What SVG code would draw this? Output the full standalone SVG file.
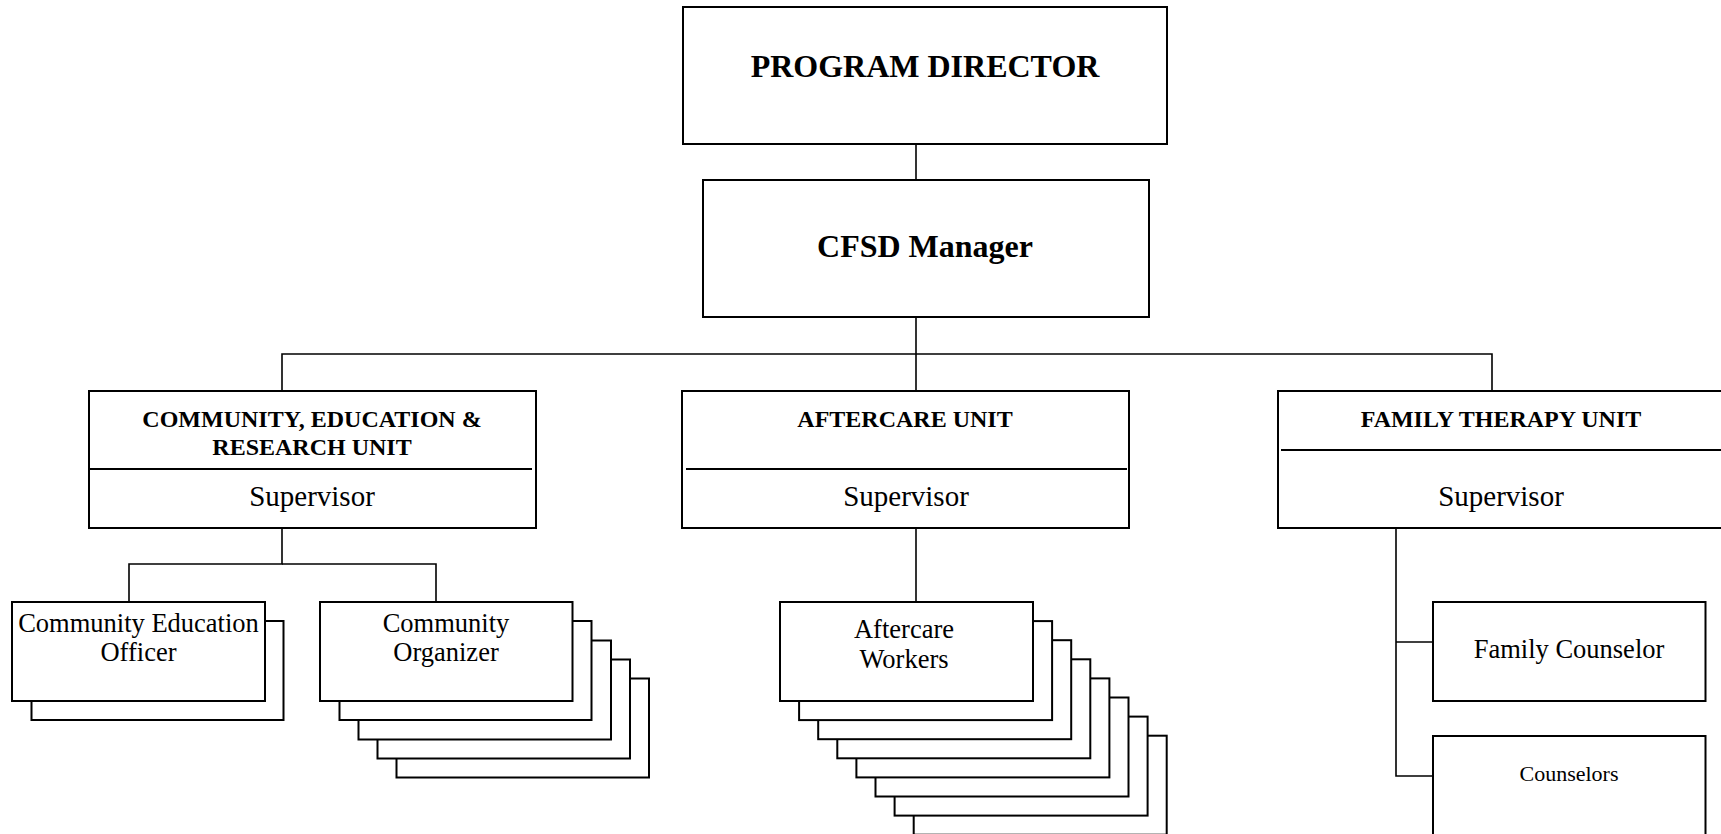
<svg xmlns="http://www.w3.org/2000/svg" width="1721" height="834" viewBox="0 0 1721 834">
<style>
  .box{fill:#fff;stroke:#000;stroke-width:2}
  .ln{fill:none;stroke:#000;stroke-width:1.6}
  .div{stroke:#000;stroke-width:2}
  text{font-family:"Liberation Serif","Times New Roman",serif;fill:#000;text-anchor:middle}
  .big{font-size:32px;font-weight:bold}
  .unit{font-size:24px;font-weight:bold}
  .sup{font-size:29px}
  .w{font-size:26.5px}
  .sm{font-size:22px}
</style>
<rect width="1721" height="834" fill="#fff"/>
<g id="connectors">
  <line class="ln" x1="916" y1="144" x2="916" y2="180"/>
  <line class="ln" x1="916" y1="317" x2="916" y2="391"/>
  <polyline class="ln" points="282,391 282,354 1492,354 1492,391"/>
  <polyline class="ln" points="282,528 282,564 129,564 129,602"/>
  <polyline class="ln" points="282,564 436,564 436,602"/>
  <line class="ln" x1="916" y1="528" x2="916" y2="602"/>
  <polyline class="ln" points="1396,528 1396,776 1433,776"/>
  <line class="ln" x1="1396" y1="642" x2="1433" y2="642"/>
</g>
<g id="program-director">
  <rect class="box" x="683" y="7" width="484" height="137"/>
  <text class="big" x="925" y="77">PROGRAM DIRECTOR</text>
</g>
<g id="cfsd-manager">
  <rect class="box" x="703" y="180" width="446" height="137"/>
  <text class="big" x="925" y="257">CFSD Manager</text>
</g>
<g id="community-unit">
  <rect class="box" x="89" y="391" width="447" height="137"/>
  <line class="div" x1="90" y1="469" x2="532" y2="469"/>
  <text class="unit" x="312" y="427">COMMUNITY, EDUCATION &amp;</text>
  <text class="unit" x="312" y="455">RESEARCH UNIT</text>
  <text class="sup" x="312" y="506">Supervisor</text>
</g>
<g id="aftercare-unit">
  <rect class="box" x="682" y="391" width="447" height="137"/>
  <line class="div" x1="686" y1="469" x2="1127" y2="469"/>
  <text class="unit" x="905" y="427">AFTERCARE UNIT</text>
  <text class="sup" x="906" y="506">Supervisor</text>
</g>
<g id="family-therapy-unit">
  <rect class="box" x="1278" y="391" width="460" height="137"/>
  <line class="div" x1="1281" y1="450" x2="1740" y2="450"/>
  <text class="unit" x="1501" y="427">FAMILY THERAPY UNIT</text>
  <text class="sup" x="1501" y="506">Supervisor</text>
</g>
<g id="community-education-officer">
  <rect class="box" x="31.5" y="621" width="252" height="99"/>
  <rect class="box" x="12" y="602" width="253" height="99"/>
  <text class="w" x="138.5" y="632">Community Education</text>
  <text class="w" x="138.5" y="661">Officer</text>
</g>
<g id="community-organizer">
  <rect class="box" x="396.5" y="678.5" width="252.5" height="99"/>
  <rect class="box" x="377.5" y="659.5" width="252.5" height="99"/>
  <rect class="box" x="358.5" y="640.5" width="252.5" height="99"/>
  <rect class="box" x="339.5" y="621" width="252" height="99"/>
  <rect class="box" x="320" y="602" width="252.5" height="99"/>
  <text class="w" x="446" y="632">Community</text>
  <text class="w" x="446" y="661">Organizer</text>
</g>
<g id="aftercare-workers">
  <rect class="box" x="913.7" y="735.7" width="253" height="99"/>
  <rect class="box" x="894.6" y="716.6" width="253" height="99"/>
  <rect class="box" x="875.5" y="697.5" width="253" height="99"/>
  <rect class="box" x="856.4" y="678.4" width="253" height="99"/>
  <rect class="box" x="837.3" y="659.3" width="253" height="99"/>
  <rect class="box" x="818.2" y="640.2" width="253" height="99"/>
  <rect class="box" x="799.1" y="621.1" width="253" height="99"/>
  <rect class="box" x="780" y="602" width="253" height="99"/>
  <text class="w" x="904" y="638">Aftercare</text>
  <text class="w" x="904" y="668">Workers</text>
</g>
<g id="family-counselor">
  <rect class="box" x="1433" y="602" width="272.5" height="99"/>
  <text class="w" x="1569" y="658">Family Counselor</text>
</g>
<g id="counselors">
  <rect class="box" x="1433" y="736" width="272.5" height="120"/>
  <text class="sm" x="1569" y="781">Counselors</text>
</g>
</svg>
